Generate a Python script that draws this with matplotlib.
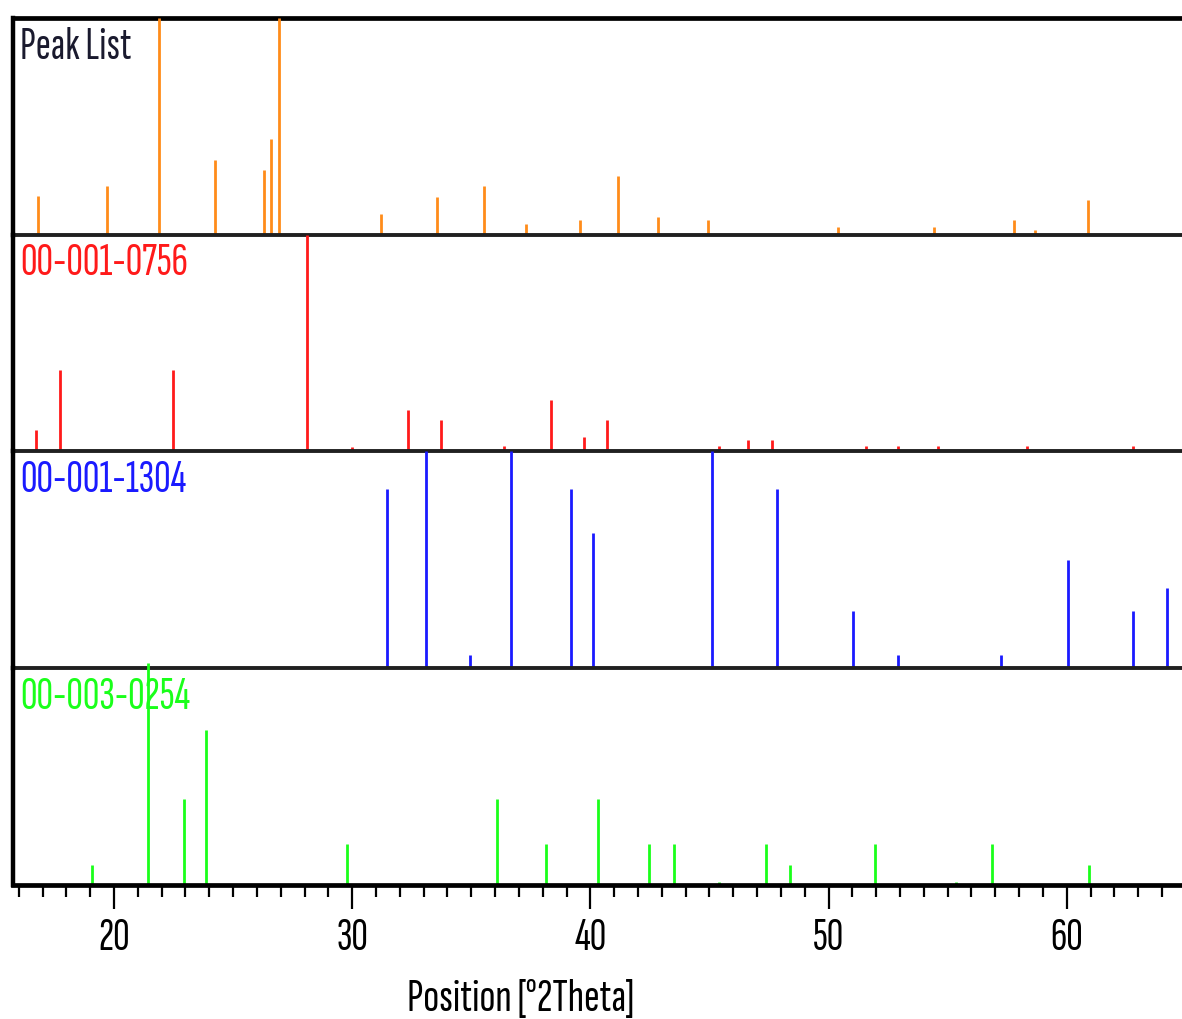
import matplotlib.pyplot as plt
from matplotlib.ticker import MultipleLocator

plt.rcParams['font.family'] = ['Sofia Sans Extra Condensed', 'DejaVu Sans']

# measured peak list: position [deg 2Theta], relative intensity [%]
peak_pos = [16.80, 19.72, 21.89, 24.24, 26.30, 26.58, 26.94, 31.20, 33.55, 35.52,
            37.30, 39.56, 41.17, 42.85, 44.92, 50.38, 54.41, 57.80, 58.65, 60.90]
peak_int = [17.9, 22.5, 100, 34.4, 29.8, 44.0, 100, 9.6, 17.4, 22.5,
            5.0, 6.9, 27.0, 8.3, 6.9, 3.7, 3.7, 6.9, 2.3, 16.0]

# reference pattern 00-001-0756
ref0756_pos = [16.71, 17.74, 22.46, 28.10, 30.00, 32.33, 33.74, 36.36, 38.35, 39.75,
               40.69, 45.40, 46.62, 47.64, 51.59, 52.91, 54.60, 58.35, 62.79]
ref0756_int = [10.0, 37.7, 37.7, 100, 2.0, 19.3, 14.4, 2.5, 23.9, 6.9,
               14.4, 2.4, 5.4, 5.4, 2.3, 2.3, 2.3, 2.3, 2.3]

# reference pattern 00-001-1304
ref1304_pos = [31.47, 33.09, 34.96, 36.65, 39.17, 40.12, 45.12, 47.85, 51.04, 52.91,
               57.24, 60.06, 62.79, 64.19]
ref1304_int = [82.6, 100, 6.1, 100, 82.6, 62.2, 100, 82.6, 26.4, 6.1,
               6.1, 49.7, 26.4, 37.2]

# reference pattern 00-003-0254
ref0254_pos = [19.06, 21.41, 22.93, 23.87, 29.79, 36.08, 38.14, 40.32, 42.48, 43.51,
               45.40, 47.38, 48.40, 51.97, 55.36, 56.87, 60.92]
ref0254_int = [9.2, 100, 38.6, 70.0, 18.6, 38.6, 18.6, 38.6, 18.6, 18.6,
               1.4, 18.6, 8.9, 18.6, 1.4, 18.6, 8.9]

names = ['Peak List', '00-001-0756', '00-001-1304', '00-003-0254']
positions = [peak_pos, ref0756_pos, ref1304_pos, ref0254_pos]
intensities = [peak_int, ref0756_int, ref1304_int, ref0254_int]
line_colors = ['#ff8c1a', '#ff1a1a', '#1a1aff', '#1aff1a']
name_colors = ['#1a1a2e', '#ff1a1a', '#1a1aff', '#1aff1a']
y_top = [100, 100, 100, 97.7]

fig = plt.figure(figsize=(11.82, 10.2), dpi=100)
axes = fig.subplots(4, 1, sharex=True,
                    gridspec_kw=dict(hspace=0, left=0.011, right=1.0,
                                     top=0.9814, bottom=0.1314))

for i, ax in enumerate(axes):
    ax.patch.set_visible(False)
    ax.vlines(positions[i], 0, intensities[i], colors=line_colors[i],
              lw=2.0, zorder=3, clip_on=False)
    ax.text(0.006, 0.965, names[i], transform=ax.transAxes, ha='left', va='top',
            fontsize=33, color=name_colors[i], zorder=1)
    ax.set_ylim(0, y_top[i])
    ax.set_yticks([])
    ax.spines['right'].set_visible(False)
    ax.spines['left'].set_linewidth(3.2)
    ax.spines['left'].set_color('black')
    ax.spines['bottom'].set_linewidth(2.8)
    ax.spines['bottom'].set_color('#202020')
    ax.spines['bottom'].set_zorder(4)
    if i > 0:
        ax.spines['top'].set_visible(False)
    else:
        ax.spines['top'].set_linewidth(3.4)
    if i < 3:
        ax.tick_params(axis='x', which='both', bottom=False, labelbottom=False)

ax = axes[-1]
ax.set_xlim(15.76, 64.84)
ax.spines['bottom'].set_linewidth(3.4)
ax.spines['bottom'].set_color('black')
ax.xaxis.set_major_locator(MultipleLocator(10))
ax.xaxis.set_minor_locator(MultipleLocator(1))
ax.tick_params(axis='x', which='major', length=17, width=1.6, direction='out',
               labelsize=33, pad=6)
ax.tick_params(axis='x', which='minor', length=8.5, width=1.6, direction='out')
ax.set_xlabel('Position [°2Theta]', fontsize=34)
ax.xaxis.set_label_coords(0.434, -0.43)

fig.savefig('out.png', dpi=100)
